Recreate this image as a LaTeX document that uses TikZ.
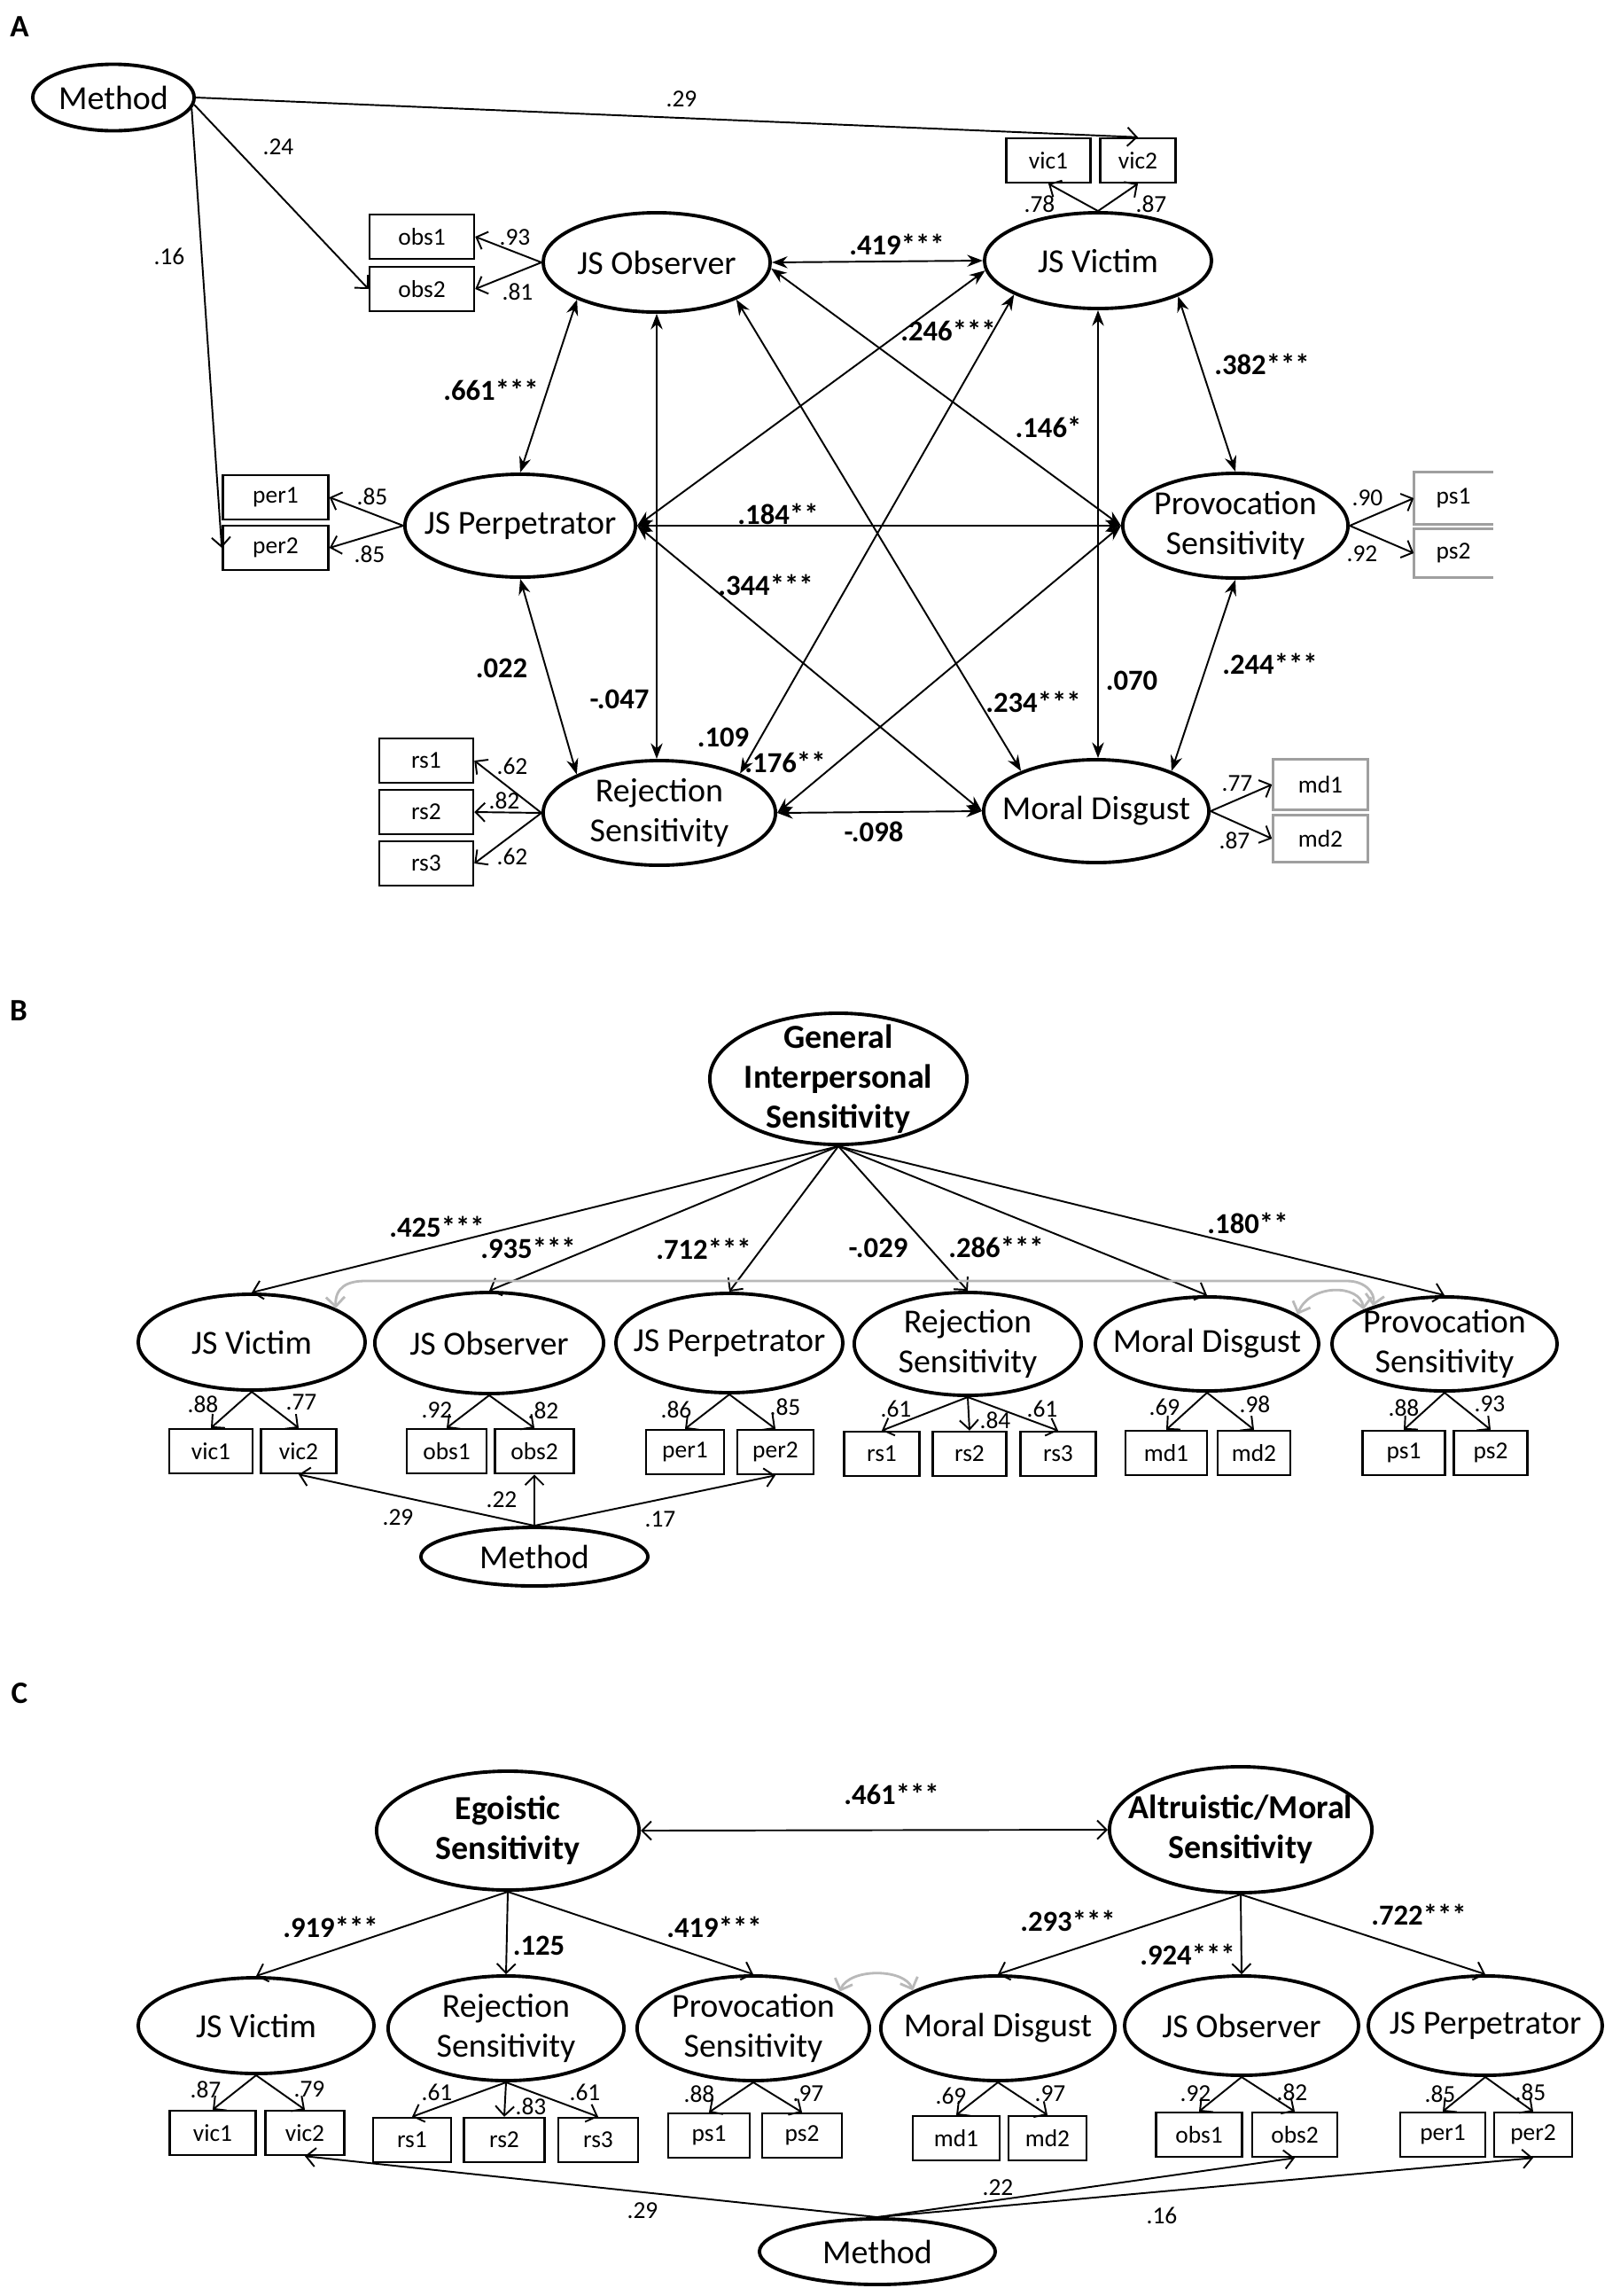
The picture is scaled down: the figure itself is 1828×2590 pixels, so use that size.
\documentclass[tikz,border=0pt]{standalone}
\usepackage{fontspec}
\setmainfont{Carlito}
\usetikzlibrary{shapes.geometric,arrows.meta}
\newcommand\ftlat{\fontsize{10.8}{12.8}\selectfont}
\newcommand\ftcor{\fontsize{9.3}{11}\selectfont\bfseries}
\newcommand\ftld{\fontsize{7.8}{9}\selectfont}
\newcommand\ftpan{\fontsize{10}{12}\selectfont\bfseries}
\tikzset{
 lat/.style 2 args={draw, ellipse, line width=1.1pt, minimum width=#1, minimum height=#2, inner xsep=-10pt, inner ysep=-4pt, align=center, font=\ftlat},
 blat/.style 2 args={lat={#1}{#2}, font=\ftlat\bfseries},
 ind/.style={draw, line width=0.7pt, minimum width=#1, minimum height=0.5cm, inner sep=0pt, font=\ftld},
 gind/.style={ind=#1, draw=gray!75},
 pan/.style={font=\ftpan, inner sep=0pt},
 cl/.style={font=\ftcor, inner sep=0pt},
 ll/.style={font=\ftld, inner sep=0pt},
 cor/.style={line width=0.55pt, {Stealth[length=5pt,width=3.8pt]}-{Stealth[length=5pt,width=3.8pt]}},
 pth/.style={line width=0.55pt, -{Straight Barb[length=3pt,width=6pt]}},
 dpth/.style={line width=0.55pt, {Straight Barb[length=3pt,width=6pt]}-{Straight Barb[length=3pt,width=6pt]}},
 gcor/.style={line width=0.8pt, draw=gray!55, {Straight Barb[length=3pt,width=6pt]}-{Straight Barb[length=3pt,width=6pt]}},
}
\begin{document}
\begin{tikzpicture}[x=0.01cm,y=-0.01cm]
\path[use as bounding box, fill=white] (0,0) rectangle (1828,2590);

%================ PANEL A ================
\node[pan] (pA) at (22,30) {A};
\node[lat={1.82cm}{0.75cm}] (Ameth) at (128,110) {Method};
\node[lat={2.56cm}{1.12cm}] (Aobs) at (741,296) {JS Observer};
\node[lat={2.56cm}{1.08cm}] (Avic) at (1239,294) {JS Victim};
\node[lat={2.60cm}{1.16cm}] (Aperp) at (587,593) {JS Perpetrator};
\node[lat={2.54cm}{1.18cm}] (Aprov) at (1394,593) {Provocation\\Sensitivity};
\node[lat={2.62cm}{1.18cm}] (Ars) at (744,917) {Rejection\\Sensitivity};
\node[lat={2.54cm}{1.16cm}] (Amd) at (1237,915) {Moral Disgust};

\node[ind=1.18cm] (Aobs1) at (476,267) {obs1};
\node[ind=1.18cm] (Aobs2) at (476,326) {obs2};
\node[ind=0.95cm] (Avic1) at (1183,181) {vic1};
\node[ind=0.85cm] (Avic2) at (1284,181) {vic2};
\node[ind=1.19cm] (Aper1) at (311,561) {per1};
\node[ind=1.19cm] (Aper2) at (311,618) {per2};
\node[ind=1.06cm] (Ars1) at (481,858) {rs1};
\node[ind=1.06cm] (Ars2) at (481,916) {rs2};
\node[ind=1.06cm] (Ars3) at (481,974) {rs3};
\node[ll, minimum width=0.88cm, minimum height=0.58cm] (Aps1) at (1640,562) {ps1};
\node[ll, minimum width=0.88cm, minimum height=0.53cm] (Aps2) at (1640,624) {ps2};
\draw[gray!75, line width=0.8pt] (Aps1.north east) -- (Aps1.north west) -- (Aps1.south west) -- (Aps1.south east);
\draw[gray!75, line width=0.8pt] (Aps2.north east) -- (Aps2.north west) -- (Aps2.south west) -- (Aps2.south east);
\node[gind=1.07cm, minimum height=0.57cm] (Amd1) at (1490,885) {md1};
\node[gind=1.07cm, minimum height=0.53cm] (Amd2) at (1490,946) {md2};

% method paths
\draw[pth] (Ameth.east) -- (Avic2.north);
\draw[pth] (Ameth.-5) -- (Aobs2.west);
\draw[pth] (Ameth.-8) -- (Aper2.west);
\node[ll] (a29) at (769,112) {.29};
\node[ll] (a24) at (314,166) {.24};
\node[ll] (a16) at (191,289) {.16};

% loadings
\draw[pth] (Aobs.west) -- (Aobs1.east);
\draw[pth] (Aobs.west) -- (Aobs2.east);
\draw[pth] (Avic.north) -- (Avic1.south);
\draw[pth] (Avic.north) -- (Avic2.south);
\draw[pth] (Aperp.west) -- (Aper1.east);
\draw[pth] (Aperp.west) -- (Aper2.east);
\draw[pth] (Ars.west) -- (Ars1.east);
\draw[pth] (Ars.west) -- (Ars2.east);
\draw[pth] (Ars.west) -- (Ars3.east);
\draw[pth] (Aprov.east) -- (Aps1.west);
\draw[pth] (Aprov.east) -- (Aps2.west);
\draw[pth] (Amd.east) -- (Amd1.west);
\draw[pth] (Amd.east) -- (Amd2.west);
\node[ll] (aL1) at (581,268) {.93};
\node[ll] (aL2) at (584,329) {.81};
\node[ll] (aL3) at (1173,230) {.78};
\node[ll] (aL4) at (1299,230) {.87};
\node[ll] (aL5) at (420,560) {.85};
\node[ll] (aL6) at (417,625) {.85};
\node[ll] (aL7) at (578,864) {.62};
\node[ll] (aL8) at (569,903) {.82};
\node[ll] (aL9) at (578,966) {.62};
\node[ll] (aL10) at (1543,562) {.90};
\node[ll] (aL11) at (1537,625) {.92};
\node[ll] (aL12) at (1396,884) {.77};
\node[ll] (aL13) at (1393,948) {.87};

% correlations
\draw[cor] (Aobs.east) -- (Avic.west);
\draw[cor] (Aobs.205) -- (Aperp.north);
\draw[cor] (Aobs.south) -- (Aobs.south |- Ars.north);
\draw[cor] (Aobs.335) -- (Amd.152);
\draw[cor] (Aobs.-3) -- (Aprov.west);
\draw[cor] (Aperp.east) -- (Avic.185);
\draw[cor] (Ars.26) -- (Avic.202);
\draw[cor] (Avic.south) -- (Avic.south |- Amd.north);
\draw[cor] (Avic.336) -- (Aprov.north);
\draw[cor] (Aperp.east) -- (Aprov.west);
\draw[cor] (Aperp.east) -- (Amd.west);
\draw[cor] (Aperp.south) -- (Ars.155);
\draw[cor] (Ars.east) -- (Aprov.west);
\draw[cor] (Ars.east) -- (Amd.west);
\draw[cor] (Amd.28) -- (Aprov.south);
\node[cl] (aC1) at (1012,276) {.419***};
\node[cl] (aC2) at (554,440) {.661***};
\node[cl] (aC3) at (1070,373) {.246***};
\node[cl] (aC4) at (1183,482) {.146*};
\node[cl] (aC5) at (1424,411) {.382***};
\node[cl] (aC6) at (878,580) {.184**};
\node[cl] (aC7) at (864,660) {.344***};
\node[cl] (aC8) at (566,754) {.022};
\node[cl] (aC9) at (699,789) {-.047};
\node[cl] (aC10) at (816,832) {.109};
\node[cl] (aC11) at (886,860) {.176**};
\node[cl] (aC12) at (1166,792) {.234***};
\node[cl] (aC13) at (1277,768) {.070};
\node[cl] (aC14) at (1433,749) {.244***};
\node[cl] (aC15) at (986,938) {-.098};

%================ PANEL B ================
\node[pan] (pB) at (21,1140) {B};
\node[blat={2.9cm}{1.48cm}] (Bgis) at (946,1217) {General\\Interpersonal\\Sensitivity};
\node[lat={2.56cm}{1.08cm}] (Bvic) at (284,1514) {JS Victim};
\node[lat={2.58cm}{1.14cm}] (Bobs) at (552,1515) {JS Observer};
\node[lat={2.56cm}{1.12cm}] (Bperp) at (823,1515) {JS Perpetrator};
\node[lat={2.56cm}{1.16cm}] (Brs) at (1092,1516) {Rejection\\Sensitivity};
\node[lat={2.52cm}{1.06cm}] (Bmd) at (1362,1516) {Moral Disgust};
\node[lat={2.54cm}{1.06cm}] (Bprov) at (1630,1516) {Provocation\\Sensitivity};
\node[lat={2.56cm}{0.66cm}] (Bmeth) at (603,1756) {Method};

\node[ind=0.94cm] (Bvic1) at (238,1637) {vic1};
\node[ind=0.85cm] (Bvic2) at (337,1637) {vic2};
\node[ind=0.90cm] (Bobs1) at (504,1637) {obs1};
\node[ind=0.89cm] (Bobs2) at (603,1637) {obs2};
\node[ind=0.88cm] (Bper1) at (773,1638) {per1};
\node[ind=0.86cm] (Bper2) at (875,1638) {per2};
\node[ind=0.85cm] (Brs1) at (995,1640) {rs1};
\node[ind=0.83cm] (Brs2) at (1094,1640) {rs2};
\node[ind=0.85cm] (Brs3) at (1194,1640) {rs3};
\node[ind=0.92cm] (Bmd1) at (1316,1639) {md1};
\node[ind=0.82cm] (Bmd2) at (1415,1639) {md2};
\node[ind=0.93cm] (Bps1) at (1584,1639) {ps1};
\node[ind=0.83cm] (Bps2) at (1682,1639) {ps2};

\draw[pth] (Bgis.south) -- (Bvic.north);
\draw[pth] (Bgis.south) -- (Bobs.north);
\draw[pth] (Bgis.south) -- (Bperp.north);
\draw[pth] (Bgis.south) -- (Brs.north);
\draw[pth] (Bgis.south) -- (Bmd.north);
\draw[pth] (Bgis.south) -- (Bprov.north);
\node[cl] (bC1) at (493,1384) {.425***};
\node[cl] (bC2) at (596,1408) {.935***};
\node[cl] (bC3) at (794,1409) {.712***};
\node[cl] (bC4) at (991,1408) {-.029};
\node[cl] (bC5) at (1124,1407) {.286***};
\node[cl] (bC6) at (1408,1380) {.180**};

\draw[gcor] (Bvic.22) .. controls (378,1452) and (392,1445) .. (412,1445) -- (1520,1445) .. controls (1540,1445) and (1552,1458) .. (Bprov.152);
\draw[gcor] (Bmd.18) .. controls (1478,1448) and (1535,1448) .. (Bprov.157);

\draw[pth] (Bvic.south) -- (Bvic1.north);
\draw[pth] (Bvic.south) -- (Bvic2.north);
\draw[pth] (Bobs.south) -- (Bobs1.north);
\draw[pth] (Bobs.south) -- (Bobs2.north);
\draw[pth] (Bperp.south) -- (Bper1.north);
\draw[pth] (Bperp.south) -- (Bper2.north);
\draw[pth] (Brs.south) -- (Brs1.north);
\draw[pth] (Brs.south) -- (Brs2.north);
\draw[pth] (Brs.south) -- (Brs3.north);
\draw[pth] (Bmd.south) -- (Bmd1.north);
\draw[pth] (Bmd.south) -- (Bmd2.north);
\draw[pth] (Bprov.south) -- (Bps1.north);
\draw[pth] (Bprov.south) -- (Bps2.north);
\node[ll] (bL1) at (229,1584) {.88};
\node[ll] (bL2) at (340,1582) {.77};
\node[ll] (bL3) at (493,1591) {.92};
\node[ll] (bL4) at (613,1591) {.82};
\node[ll] (bL5) at (763,1590) {.86};
\node[ll] (bL6) at (886,1587) {.85};
\node[ll] (bL7) at (1011,1589) {.61};
\node[ll] (bL8) at (1123,1602) {.84};
\node[ll] (bL9) at (1176,1589) {.61};
\node[ll] (bL10) at (1314,1587) {.69};
\node[ll] (bL11) at (1416,1584) {.98};
\node[ll] (bL12) at (1584,1588) {.88};
\node[ll] (bL13) at (1681,1584) {.93};

\draw[pth] (Bmeth.north) -- (Bvic2.south);
\draw[pth] (Bmeth.north) -- (Bobs2.south);
\draw[pth] (Bmeth.north) -- (Bper2.south);
\node[ll] (bM1) at (449,1712) {.29};
\node[ll] (bM2) at (566,1692) {.22};
\node[ll] (bM3) at (745,1714) {.17};

%================ PANEL C ================
\node[pan] (pC) at (22,1910) {C};
\node[blat={2.96cm}{1.34cm}] (Cego) at (573,2065) {Egoistic\\Sensitivity};
\node[blat={2.96cm}{1.42cm}] (Calt) at (1400,2064) {Altruistic/Moral\\Sensitivity};
\draw[dpth] (Cego.east) -- (Calt.west);
\node[cl] (cC0) at (1006,2024) {.461***};

\node[lat={2.66cm}{1.08cm}] (Cvic) at (289,2285) {JS Victim};
\node[lat={2.66cm}{1.18cm}] (Crs) at (571,2288) {Rejection\\Sensitivity};
\node[lat={2.62cm}{1.18cm}] (Cprov) at (850,2288) {Provocation\\Sensitivity};
\node[lat={2.64cm}{1.18cm}] (Cmd) at (1126,2288) {Moral Disgust};
\node[lat={2.64cm}{1.12cm}] (Cobs) at (1401,2285) {JS Observer};
\node[lat={2.64cm}{1.12cm}] (Cperp) at (1676,2285) {JS Perpetrator};
\node[lat={2.66cm}{0.74cm}] (Cmeth) at (990,2540) {Method};

\draw[pth] (Cego.south) -- (Cvic.north);
\draw[pth] (Cego.south) -- (Crs.north);
\draw[pth] (Cego.south) -- (Cprov.north);
\draw[pth] (Calt.south) -- (Cmd.north);
\draw[pth] (Calt.south) -- (Cobs.north);
\draw[pth] (Calt.south) -- (Cperp.north);
\node[cl] (cC1) at (373,2174) {.919***};
\node[cl] (cC2) at (608,2195) {.125};
\node[cl] (cC3) at (806,2174) {.419***};
\node[cl] (cC4) at (1205,2167) {.293***};
\node[cl] (cC5) at (1340,2205) {.924***};
\node[cl] (cC6) at (1601,2160) {.722***};

\draw[gcor] (Cprov.23) .. controls (958,2220) and (1020,2220) .. (Cmd.156);

\node[ind=0.97cm] (Cvic1) at (240,2406) {vic1};
\node[ind=0.89cm] (Cvic2) at (344,2406) {vic2};
\node[ind=0.88cm] (Crs1) at (465,2414) {rs1};
\node[ind=0.91cm] (Crs2) at (569,2414) {rs2};
\node[ind=0.90cm] (Crs3) at (675,2414) {rs3};
\node[ind=0.92cm] (Cps1) at (800,2409) {ps1};
\node[ind=0.90cm] (Cps2) at (905,2409) {ps2};
\node[ind=0.98cm] (Cmd1) at (1079,2412) {md1};
\node[ind=0.88cm] (Cmd2) at (1182,2412) {md2};
\node[ind=0.97cm] (Cobs1) at (1353,2408) {obs1};
\node[ind=0.96cm] (Cobs2) at (1461,2408) {obs2};
\node[ind=0.96cm] (Cper1) at (1628,2408) {per1};
\node[ind=0.88cm] (Cper2) at (1730,2408) {per2};

\draw[pth] (Cvic.south) -- (Cvic1.north);
\draw[pth] (Cvic.south) -- (Cvic2.north);
\draw[pth] (Crs.south) -- (Crs1.north);
\draw[pth] (Crs.south) -- (Crs2.north);
\draw[pth] (Crs.south) -- (Crs3.north);
\draw[pth] (Cprov.south) -- (Cps1.north);
\draw[pth] (Cprov.south) -- (Cps2.north);
\draw[pth] (Cmd.south) -- (Cmd1.north);
\draw[pth] (Cmd.south) -- (Cmd2.north);
\draw[pth] (Cobs.south) -- (Cobs1.north);
\draw[pth] (Cobs.south) -- (Cobs2.north);
\draw[pth] (Cperp.south) -- (Cper1.north);
\draw[pth] (Cperp.south) -- (Cper2.north);
\node[ll] (cL1) at (232,2357) {.87};
\node[ll] (cL2) at (349,2357) {.79};
\node[ll] (cL3) at (493,2360) {.61};
\node[ll] (cL4) at (599,2376) {.83};
\node[ll] (cL5) at (660,2360) {.61};
\node[ll] (cL6) at (789,2362) {.88};
\node[ll] (cL7) at (912,2362) {.97};
\node[ll] (cL8) at (1073,2364) {.69};
\node[ll] (cL9) at (1185,2362) {.97};
\node[ll] (cL10) at (1349,2362) {.92};
\node[ll] (cL11) at (1458,2360) {.82};
\node[ll] (cL12) at (1625,2362) {.85};
\node[ll] (cL13) at (1727,2360) {.85};

\draw[pth] (Cmeth.north) -- (Cvic2.south);
\draw[pth] (Cmeth.north) -- (Cobs2.south);
\draw[pth] (Cmeth.north) -- (Cper2.south);
\node[ll] (cM1) at (725,2494) {.29};
\node[ll] (cM2) at (1126,2468) {.22};
\node[ll] (cM3) at (1311,2499) {.16};
\end{tikzpicture}
\end{document}
